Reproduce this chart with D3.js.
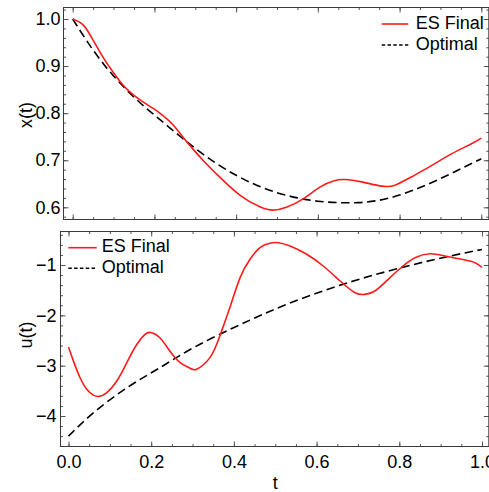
<!DOCTYPE html>
<html>
<head>
<meta charset="utf-8">
<script src="https://cdn.jsdelivr.net/npm/d3@7"></script>
<style>
  html, body { margin: 0; padding: 0; background: #fff; }
  svg { display: block; font-family: "Liberation Sans", Arial, sans-serif; }
</style>
</head>
<body>
<svg id="chart" width="489" height="492"></svg>
<script>
// ---- state trajectory x(t) ----
const xEsT  = [0, 0.026, 0.05, 0.074, 0.099, 0.123, 0.147, 0.172, 0.197, 0.221, 0.246, 0.27, 0.295, 0.32, 0.36, 0.409, 0.458, 0.491, 0.523, 0.564, 0.605, 0.638, 0.666, 0.707, 0.756, 0.789, 0.83, 0.879, 0.928, 0.976, 1.0];
const xEsV  = [1.0, 0.987, 0.955, 0.919, 0.887, 0.860, 0.840, 0.824, 0.810, 0.795, 0.775, 0.749, 0.723, 0.699, 0.664, 0.626, 0.601, 0.594, 0.600, 0.618, 0.643, 0.656, 0.659, 0.654, 0.645, 0.647, 0.665, 0.689, 0.714, 0.735, 0.747];
const xOptT = [0, 0.025, 0.05, 0.075, 0.1, 0.15, 0.2, 0.25, 0.3, 0.35, 0.4, 0.45, 0.5, 0.55, 0.6, 0.65, 0.7, 0.75, 0.8, 0.85, 0.9, 0.95, 1.0];
const xOptV = [1.0, 0.966, 0.934, 0.905, 0.879, 0.834, 0.796, 0.760, 0.725, 0.694, 0.668, 0.647, 0.631, 0.620, 0.613, 0.610, 0.610, 0.615, 0.626, 0.642, 0.661, 0.682, 0.703];

// ---- control u(t) ----
const uEsT  = [0, 0.012, 0.028, 0.044, 0.06, 0.0745, 0.092, 0.1165, 0.141, 0.165, 0.185, 0.199, 0.221, 0.245, 0.27, 0.294, 0.31, 0.342, 0.366, 0.39, 0.415, 0.439, 0.463, 0.487, 0.507, 0.536, 0.576, 0.616, 0.657, 0.693, 0.717, 0.741, 0.773, 0.806, 0.838, 0.874, 0.91, 0.951, 0.983, 1.0];
const uEsV  = [-2.63, -2.91, -3.24, -3.47, -3.585, -3.61, -3.54, -3.31, -2.94, -2.58, -2.38, -2.34, -2.445, -2.71, -2.94, -3.05, -3.07, -2.84, -2.41, -1.85, -1.25, -0.887, -0.656, -0.568, -0.557, -0.622, -0.787, -1.02, -1.318, -1.55, -1.583, -1.517, -1.285, -1.04, -0.855, -0.776, -0.82, -0.887, -0.954, -1.05];
const uOptT = [0, 0.06, 0.141, 0.221, 0.302, 0.399, 0.479, 0.56, 0.665, 0.749, 0.83, 0.91, 1.0];
const uOptV = [-4.40, -3.94, -3.44, -3.04, -2.644, -2.246, -1.95, -1.68, -1.38, -1.175, -1.0, -0.845, -0.69];

const seriesNames = ["ES Final", "Optimal"];
const tTicks = [0, 0.2, 0.4, 0.6, 0.8, 1.0];
const xValueTicks = [0.6, 0.7, 0.8, 0.9, 1.0];
const uValueTicks = [-4, -3, -2, -1];

const RED = "#ff1a1a";
const FRAME = "#3a3a3a";
const TICK = "#555";
const FONT = 18;

const svg = d3.select("#chart");

const panels = [
  {
    id: "px",
    frame: { l: 63.5, t: 7.5, r: 488.8, b: 219.5 },
    x: d3.scaleLinear([0, 1], [72.7, 481.3]),
    y: d3.scaleLinear([0.6, 1.0], [207.3, 19]),
    yMajor: xValueTicks,
    yMinor: d3.range(0.58, 1.021, 0.02),
    yFmt: d3.format(".1f"),
    yLabel: "x(t)", yLabelPos: [26, 115], labelPad: 3,
    es: [xEsT, xEsV], opt: [xOptT, xOptV],
    showT: false,
    legend: { x1: 381.7, x2: 408.3, tx: 415.7, y1: 24, y2: 45, b1: 28.8, b2: 49.6 }
  },
  {
    id: "pu",
    frame: { l: 60.5, t: 231.5, r: 488.8, b: 446.5 },
    x: d3.scaleLinear([0, 1], [68.5, 482]),
    y: d3.scaleLinear([-4, -1], [416, 265]),
    yMajor: uValueTicks,
    yMinor: d3.range(-4.4, -0.39, 0.2),
    yFmt: d3.format("d"),
    yLabel: "u(t)", yLabelPos: [26, 335], labelPad: 4,
    es: [uEsT, uEsV], opt: [uOptT, uOptV],
    showT: true,
    legend: { x1: 68.3, x2: 96.7, tx: 101.7, y1: 247.7, y2: 268.3, b1: 252.2, b2: 272.8 }
  }
];

panels.forEach(p => {
  const f = p.frame;
  const g = svg.append("g");
  const tMinor = d3.range(0, 1.0001, 0.05);

  g.append("clipPath").attr("id", "clip-" + p.id)
    .append("rect").attr("x", f.l).attr("y", f.t).attr("width", f.r - f.l).attr("height", f.b - f.t);

  const clean = sel => { sel.select(".domain").remove(); sel.selectAll(".tick line").attr("stroke", TICK); };

  // bottom / top edge ticks (inward)
  g.append("g").attr("transform", `translate(0,${f.b})`)
    .call(d3.axisBottom(p.x).tickValues(tMinor).tickSize(-2.5).tickFormat("")).call(clean);
  const xb = g.append("g").attr("transform", `translate(0,${f.b})`)
    .call(d3.axisBottom(p.x).tickValues(tTicks).tickSize(-5).tickPadding(8.7)
      .tickFormat(p.showT ? d3.format(".1f") : ""))
    .call(clean);
  xb.selectAll("text").attr("font-size", FONT).attr("fill", "#000").attr("font-family", null);

  g.append("g").attr("transform", `translate(0,${f.t})`)
    .call(d3.axisTop(p.x).tickValues(tMinor).tickSize(-2.5).tickFormat("")).call(clean);
  g.append("g").attr("transform", `translate(0,${f.t})`)
    .call(d3.axisTop(p.x).tickValues(tTicks).tickSize(-5).tickFormat("")).call(clean);

  // left / right edge ticks (inward)
  g.append("g").attr("transform", `translate(${f.l},0)`)
    .call(d3.axisLeft(p.y).tickValues(p.yMinor).tickSize(-2.5).tickFormat("")).call(clean);
  const yl = g.append("g").attr("transform", `translate(${f.l},0)`)
    .call(d3.axisLeft(p.y).tickValues(p.yMajor).tickSize(-5).tickPadding(p.labelPad).tickFormat(p.yFmt))
    .call(clean);
  yl.selectAll("text").attr("font-size", FONT).attr("fill", "#000").attr("font-family", null);

  g.append("g").attr("transform", `translate(${f.r},0)`)
    .call(d3.axisRight(p.y).tickValues(p.yMinor).tickSize(-2.5).tickFormat("")).call(clean);
  g.append("g").attr("transform", `translate(${f.r},0)`)
    .call(d3.axisRight(p.y).tickValues(p.yMajor).tickSize(-5).tickFormat("")).call(clean);

  // frame
  g.append("rect").attr("x", f.l).attr("y", f.t).attr("width", f.r - f.l).attr("height", f.b - f.t)
    .attr("fill", "none").attr("stroke", FRAME).attr("stroke-width", 1);

  // curves
  const line = d3.line().x(d => p.x(d[0])).y(d => p.y(d[1])).curve(d3.curveNatural);
  const plot = g.append("g").attr("clip-path", `url(#clip-${p.id})`);
  plot.append("path").datum(d3.zip(p.opt[0], p.opt[1])).attr("d", line)
    .attr("fill", "none").attr("stroke", "#000").attr("stroke-width", 1.6).attr("stroke-dasharray", "8.5,4.5");
  plot.append("path").datum(d3.zip(p.es[0], p.es[1])).attr("d", line)
    .attr("fill", "none").attr("stroke", RED).attr("stroke-width", 1.6);

  // y label
  g.append("text").attr("transform", `translate(${p.yLabelPos[0]},${p.yLabelPos[1]}) rotate(-90)`)
    .attr("text-anchor", "middle").attr("dy", "0.35em").attr("font-size", FONT).text(p.yLabel);

  // legend
  const L = p.legend;
  const lg = g.append("g");
  lg.append("line").attr("x1", L.x1).attr("x2", L.x2).attr("y1", L.y1).attr("y2", L.y1)
    .attr("stroke", RED).attr("stroke-width", 1.6);
  lg.append("text").attr("x", L.tx).attr("y", L.b1).attr("font-size", FONT).text(seriesNames[0]);
  lg.append("line").attr("x1", L.x1).attr("x2", L.x2).attr("y1", L.y2).attr("y2", L.y2)
    .attr("stroke", "#000").attr("stroke-width", 1.4).attr("stroke-dasharray", "3.5,2.3");
  lg.append("text").attr("x", L.tx).attr("y", L.b2).attr("font-size", FONT).text(seriesNames[1]);

  if (p.showT) {
    g.append("text").attr("x", (p.x(0) + p.x(1)) / 2).attr("y", 488.5)
      .attr("text-anchor", "middle").attr("font-size", FONT).text("t");
  }
});
</script>
</body>
</html>
